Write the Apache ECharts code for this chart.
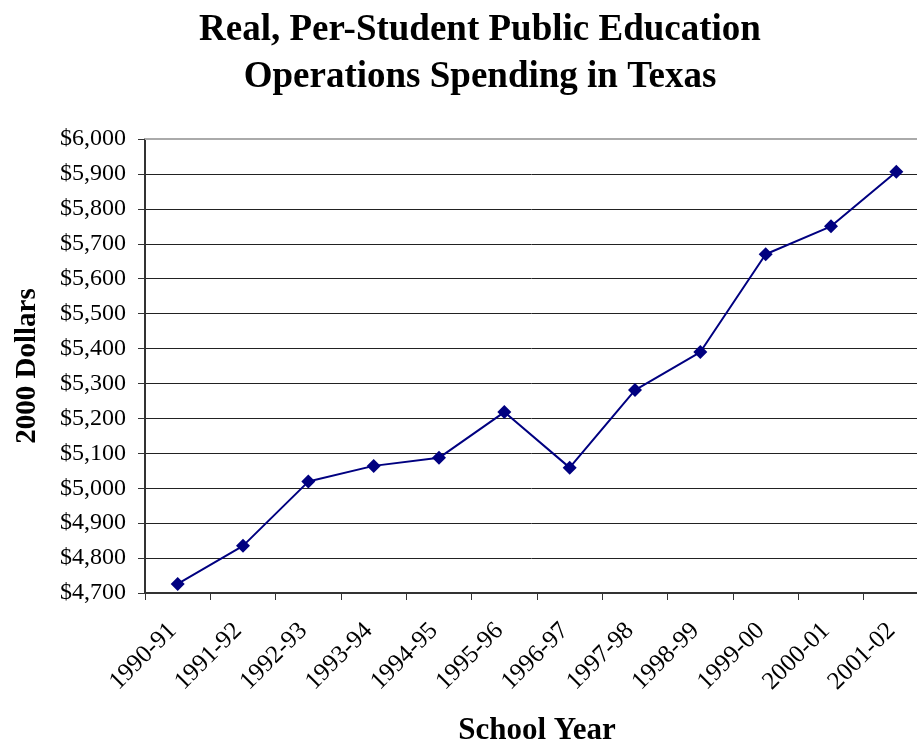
<!DOCTYPE html>
<html>
<head>
<meta charset="utf-8">
<script src="https://cdn.jsdelivr.net/npm/echarts@6/dist/echarts.min.js"></script>
<style>
  html, body { margin: 0; padding: 0; background: #fff; }
  #chart { width: 917px; height: 744px; }
</style>
</head>
<body>
<div id="chart"></div>
<script>
var schoolYears = ['1990-91', '1991-92', '1992-93', '1993-94', '1994-95', '1995-96',
    '1996-97', '1997-98', '1998-99', '1999-00', '2000-01', '2001-02'];
var spending = [4726, 4835, 5019, 5064, 5087, 5218, 5059, 5281, 5390, 5670, 5750, 5906];

var serif = '"Liberation Serif", "Times New Roman", serif';

var chart = echarts.init(document.getElementById('chart'));

var option = {
    backgroundColor: '#fff',
    animation: false,
    title: {
        text: 'Real, Per-Student Public Education\nOperations Spending in Texas',
        left: 475,
        textAlign: 'center',
        top: 2,
        textStyle: {
            fontFamily: serif,
            fontSize: 37,
            fontWeight: 'bold',
            color: '#000',
            lineHeight: 47
        }
    },
    grid: {
        left: 145,
        top: 139,
        width: 784,
        height: 454,
        containLabel: false,
        outerBoundsMode: 'none'
    },
    xAxis: [
        {
            type: 'category',
            data: schoolYears,
            boundaryGap: true,
            name: 'School Year',
            nameLocation: 'middle',
            nameGap: 122,
            nameTextStyle: {
                fontFamily: serif,
                fontSize: 31,
                fontWeight: 'bold',
                color: '#000'
            },
            axisLine: { lineStyle: { color: '#333', width: 2 } },
            axisTick: { show: true, length: 7, lineStyle: { color: '#333', width: 1 } },
            axisLabel: {
                rotate: 45,
                margin: 29,
                padding: [0, 7, 0, 0],
                interval: 0,
                fontFamily: serif,
                fontSize: 25,
                color: '#000'
            }
        },
        {
            type: 'category',
            position: 'top',
            data: schoolYears,
            axisLine: { show: true, lineStyle: { color: '#aaa', width: 2 } },
            axisTick: { show: false },
            axisLabel: { show: false }
        }
    ],
    yAxis: {
        type: 'value',
        min: 4700,
        max: 6000,
        interval: 100,
        name: '2000 Dollars',
        nameLocation: 'middle',
        nameGap: 103,
        nameTextStyle: {
            fontFamily: serif,
            fontSize: 29,
            fontWeight: 'bold',
            color: '#000'
        },
        axisLine: { show: true, lineStyle: { color: '#333', width: 2 } },
        axisTick: { show: true, inside: false, length: 7, lineStyle: { color: '#333', width: 1 } },
        splitLine: { show: true, lineStyle: { color: '#222', width: 1 } },
        axisLabel: {
            margin: 19,
            fontFamily: serif,
            fontSize: 24,
            color: '#000',
            formatter: function (v) {
                return '$' + v.toLocaleString('en-US');
            }
        }
    },
    series: [
        {
            type: 'line',
            data: spending,
            symbol: 'diamond',
            symbolSize: 14,
            lineStyle: { color: '#000080', width: 2 },
            itemStyle: { color: '#000080' }
        }
    ]
};

chart.setOption(option);
</script>
</body>
</html>
